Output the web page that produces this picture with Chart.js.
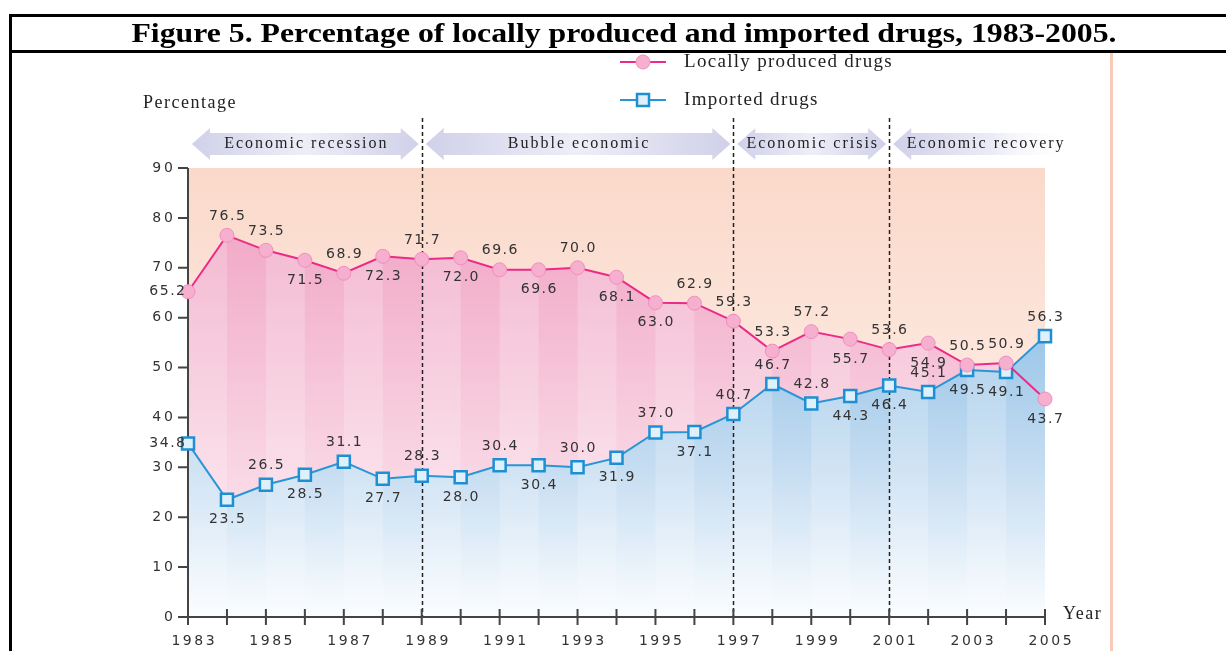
<!DOCTYPE html>
<html>
<head>
<meta charset="utf-8">
<title>Figure 5</title>
<script src="https://cdn.jsdelivr.net/npm/chart.js@4.4.0/dist/chart.umd.min.js"></script>
<style>
    html, body { margin: 0; padding: 0; background: #fff; overflow: hidden; }
    #contenedor { position: relative; width: 1226px; height: 651px; overflow: hidden; }
    #grafico { position: absolute; left: 0; top: 0; }
    #marco { position: absolute; left: 9px; top: 14px; width: 1260px; height: 700px;
             border-left: 3px solid #000; border-top: 3px solid #000; }
    #titulo { position: absolute; left: 9px; top: 17px; width: 1260px; height: 33px;
              border-bottom: 3px solid #000; }
    #titulo span { position: absolute; left: 0; width: 1230px; top: -1px; text-align: center;
                   font: bold 28px "Liberation Serif", "Times New Roman", serif; line-height: 33px;
                   color: #000; white-space: nowrap; transform: scaleX(1.135); transform-origin: 615px 0; }
</style>
</head>
<body>
<div id="contenedor">
    <canvas id="grafico" width="1226" height="651"></canvas>
    <div id="marco"></div>
    <div id="titulo"><span>Figure 5. Percentage of locally produced and imported drugs, 1983-2005.</span></div>
</div>
<script>
// Datos del gráfico
const anios = [1983, 1984, 1985, 1986, 1987, 1988, 1989, 1990, 1991, 1992, 1993, 1994,
               1995, 1996, 1997, 1998, 1999, 2000, 2001, 2002, 2003, 2004, 2005];
const localesPct = [65.2, 76.5, 73.5, 71.5, 68.9, 72.3, 71.7, 72.0, 69.6, 69.6, 70.0, 68.1,
                    63.0, 62.9, 59.3, 53.3, 57.2, 55.7, 53.6, 54.9, 50.5, 50.9, 43.7];
const importadosPct = [34.8, 23.5, 26.5, 28.5, 31.1, 27.7, 28.3, 28.0, 30.4, 30.4, 30.0, 31.9,
                       37.0, 37.1, 40.7, 46.7, 42.8, 44.3, 46.4, 45.1, 49.5, 49.1, 56.3];
const ticksY = [0, 10, 20, 30, 40, 50, 60, 70, 80, 90];
const etiquetasX = [1983, 1985, 1987, 1989, 1991, 1993, 1995, 1997, 1999, 2001, 2003, 2005];
const periodos = ['Economic recession', 'Bubble economic', 'Economic crisis', 'Economic recovery'];
const cortesPeriodo = [1983, 1989, 1997, 2001, 2005];
const nombresSeries = ['Locally produced drugs', 'Imported drugs'];

// Ubicación de cada etiqueta de valor: a = arriba, b = abajo, l = izquierda
const posLocales = ['l','a','a','b','a','b','a','b','a','b','a','b','b','a','a','a','a','b','a','b','a','a','b'];
const posImportados = ['l','b','a','b','a','b','a','b','a','b','a','b','a','b','a','a','a','b','b','a','b','b','a'];

const fuenteNum = '14px "DejaVu Sans", sans-serif';
const fuenteSerif = '"Liberation Serif", "Times New Roman", serif';

// Degradados (dependen del área del gráfico)
function degradadoRosa(chart) {
    const a = chart.chartArea;
    const g = chart.ctx.createLinearGradient(0, a.top, 0, a.bottom);
    g.addColorStop(0, '#f0a2c3');
    g.addColorStop(0.2, '#f2aeca');
    g.addColorStop(0.6, '#f8d0e0');
    g.addColorStop(1, '#fdeff5');
    return g;
}
function degradadoAzul(chart) {
    const a = chart.chartArea;
    const g = chart.ctx.createLinearGradient(0, a.top, 0, a.bottom);
    g.addColorStop(0, '#96c3e8');
    g.addColorStop(0.35, '#99c5e8');
    g.addColorStop(0.66, '#c4dcf1');
    g.addColorStop(1, '#fbfdff');
    return g;
}

function textoEspaciado(ctx, texto, x, y, espacio, alinear) {
    ctx.letterSpacing = espacio + 'px';
    const w = ctx.measureText(texto).width - espacio;
    let x0 = x;
    if (alinear === 'center') x0 = x - w / 2;
    else if (alinear === 'right') x0 = x - w;
    ctx.textAlign = 'left';
    ctx.fillText(texto, x0, y);
    ctx.letterSpacing = '0px';
}

// Fondo melocotón del área de trazado y línea lateral
const fondo = {
    id: 'fondo',
    beforeDraw(chart) {
        const { ctx, chartArea: a } = chart;
        ctx.save();
        const g = ctx.createLinearGradient(0, a.top, 0, a.bottom);
        g.addColorStop(0, '#fad9ca');
        g.addColorStop(0.5, '#fde8df');
        g.addColorStop(1, '#fff3ee');
        ctx.fillStyle = g;
        ctx.fillRect(a.left, a.top, a.right - a.left, a.bottom - a.top);
        ctx.fillStyle = '#f8cbb9';
        ctx.fillRect(1110, 53, 3, 600);
        ctx.restore();
    }
};

// Franjas verticales alternas, ejes y líneas de periodo
const rayas = {
    id: 'rayas',
    beforeDatasetsDraw(chart) {
        const { ctx, chartArea: a, scales } = chart;
        const x = scales.x, y = scales.y;
        ctx.save();
        // recorte: unión de las zonas bajo ambas series
        ctx.beginPath();
        [0, 1].forEach(i => {
            const pts = chart.getDatasetMeta(i).data;
            ctx.moveTo(pts[0].x, y.getPixelForValue(0));
            pts.forEach(p => ctx.lineTo(p.x, p.y));
            ctx.lineTo(pts[pts.length - 1].x, y.getPixelForValue(0));
            ctx.closePath();
        });
        ctx.clip();
        ctx.fillStyle = 'rgba(255,255,255,0.2)';
        for (let i = 0; i < anios.length - 1; i += 2) {
            const x1 = x.getPixelForValue(anios[i]);
            const x2 = x.getPixelForValue(anios[i + 1]);
            ctx.fillRect(x1, a.top, x2 - x1, a.bottom - a.top);
        }
        ctx.restore();

        // líneas discontinuas de periodo
        ctx.save();
        ctx.strokeStyle = '#222';
        ctx.lineWidth = 1.5;
        ctx.setLineDash([4, 3]);
        cortesPeriodo.slice(1, -1).forEach(c => {
            const px = Math.round(x.getPixelForValue(c)) + 0.5;
            ctx.beginPath();
            ctx.moveTo(px, 118);
            ctx.lineTo(px, y.getPixelForValue(0));
            ctx.stroke();
        });
        ctx.restore();

        // ejes
        ctx.save();
        ctx.strokeStyle = '#444';
        ctx.lineWidth = 2;
        const x0 = x.getPixelForValue(anios[0]);
        const y0 = y.getPixelForValue(0);
        ctx.beginPath();
        ctx.moveTo(x0, y.getPixelForValue(90));
        ctx.lineTo(x0, y0);
        ctx.moveTo(x0 - 10, y0);
        ctx.lineTo(x.getPixelForValue(anios[anios.length - 1]), y0);
        ticksY.forEach(t => {
            const py = y.getPixelForValue(t);
            ctx.moveTo(x0 - 10, py);
            ctx.lineTo(x0, py);
        });
        anios.forEach(an => {
            const px = x.getPixelForValue(an);
            ctx.moveTo(px, y0 - 8);
            ctx.lineTo(px, y0 + 8);
        });
        ctx.stroke();

        ctx.fillStyle = '#333';
        ctx.font = fuenteNum;
        ctx.textBaseline = 'middle';
        ticksY.forEach(t => textoEspaciado(ctx, String(t), x0 - 15, y.getPixelForValue(t), 3, 'right'));
        etiquetasX.forEach(e => textoEspaciado(ctx, String(e), x.getPixelForValue(e) + 5, y0 + 24, 2.5, 'center'));

        ctx.fillStyle = '#222';
        ctx.font = '18px ' + fuenteSerif;
        textoEspaciado(ctx, 'Percentage', 143, 103, 1.5, 'left');
        textoEspaciado(ctx, 'Year', 1063, 614, 1.5, 'left');
        ctx.restore();
    }
};

// Flechas de periodos económicos
function dibujarFlecha(ctx, x1, x2, yc, puntaDer) {
    const h = 16, cuerpo = 11, punta = 18;
    const g = ctx.createLinearGradient(x1, 0, x2, 0);
    g.addColorStop(0, '#d0d0e9');
    if (puntaDer) {
        g.addColorStop(0.5, '#eeeef8');
        g.addColorStop(1, '#d0d0e9');
    } else {
        g.addColorStop(0.55, '#ececf7');
        g.addColorStop(1, 'rgba(255,255,255,0)');
    }
    ctx.fillStyle = g;
    ctx.beginPath();
    ctx.moveTo(x1, yc);
    ctx.lineTo(x1 + punta, yc - h);
    ctx.lineTo(x1 + punta, yc - cuerpo);
    if (puntaDer) {
        ctx.lineTo(x2 - punta, yc - cuerpo);
        ctx.lineTo(x2 - punta, yc - h);
        ctx.lineTo(x2, yc);
        ctx.lineTo(x2 - punta, yc + h);
        ctx.lineTo(x2 - punta, yc + cuerpo);
    } else {
        ctx.lineTo(x2, yc - cuerpo);
        ctx.lineTo(x2, yc + cuerpo);
    }
    ctx.lineTo(x1 + punta, yc + cuerpo);
    ctx.lineTo(x1 + punta, yc + h);
    ctx.closePath();
    ctx.fill();
}

const flechas = {
    id: 'flechas',
    afterDraw(chart) {
        const { ctx, scales } = chart;
        const x = scales.x;
        ctx.save();
        periodos.forEach((p, i) => {
            const ultimo = i === periodos.length - 1;
            const x1 = x.getPixelForValue(cortesPeriodo[i]) + 4;
            const x2 = ultimo ? x.getPixelForValue(cortesPeriodo[i + 1]) + 30 : x.getPixelForValue(cortesPeriodo[i + 1]) - 3;
            dibujarFlecha(ctx, x1, x2, 144, !ultimo);
            ctx.fillStyle = '#222';
            ctx.font = '16px ' + fuenteSerif;
            ctx.textBaseline = 'middle';
            const centro = ultimo ? x1 + 92 : (x1 + x2) / 2;
            textoEspaciado(ctx, p, centro, 144, 2, 'center');
        });
        ctx.restore();
    }
};

// Etiquetas de valores
const etiquetas = {
    id: 'etiquetas',
    afterDatasetsDraw(chart) {
        const { ctx } = chart;
        ctx.save();
        ctx.font = fuenteNum;
        ctx.fillStyle = '#333';
        ctx.textBaseline = 'middle';
        [[localesPct, posLocales], [importadosPct, posImportados]].forEach((par, i) => {
            const pts = chart.getDatasetMeta(i).data;
            par[0].forEach((v, j) => {
                const p = pts[j];
                const txt = v.toFixed(1);
                const pos = par[1][j];
                if (pos === 'l') textoEspaciado(ctx, txt, p.x - 3, p.y, 1.5, 'right');
                else if (pos === 'a') textoEspaciado(ctx, txt, p.x, p.y - 19, 1.5, 'center');
                else textoEspaciado(ctx, txt, p.x, p.y + 20, 1.5, 'center');
            });
        });
        ctx.restore();
    }
};

// Leyenda
const leyenda = {
    id: 'leyenda',
    afterDraw(chart) {
        const { ctx } = chart;
        ctx.save();
        const filas = [62, 100];
        filas.forEach((fy, i) => {
            const ds = chart.data.datasets[i];
            ctx.strokeStyle = ds.borderColor;
            ctx.lineWidth = 2;
            ctx.beginPath();
            ctx.moveTo(620, fy);
            ctx.lineTo(666, fy);
            ctx.stroke();
            ctx.fillStyle = ds.pointBackgroundColor;
            ctx.strokeStyle = ds.pointBorderColor;
            ctx.lineWidth = ds.pointBorderWidth;
            ctx.beginPath();
            if (ds.pointStyle === 'rect') {
                const s = ds.pointRadius * Math.SQRT1_2;
                ctx.rect(643 - s, fy - s, 2 * s, 2 * s);
            } else {
                ctx.arc(643, fy, ds.pointRadius, 0, Math.PI * 2);
            }
            ctx.fill();
            ctx.stroke();
            ctx.fillStyle = '#222';
            ctx.font = '19px ' + fuenteSerif;
            ctx.textBaseline = 'middle';
            textoEspaciado(ctx, nombresSeries[i], 684, fy, 1.3, 'left');
        });
        ctx.restore();
    }
};

document.addEventListener('DOMContentLoaded', () => {
    const ctx = document.getElementById('grafico').getContext('2d');
    new Chart(ctx, {
        type: 'line',
        data: {
            datasets: [
                {
                    label: nombresSeries[0],
                    data: anios.map((a, i) => ({ x: a, y: localesPct[i] })),
                    borderColor: '#ec2a88',
                    borderWidth: 2,
                    pointStyle: 'circle',
                    pointRadius: 7,
                    pointBackgroundColor: '#f6afcf',
                    pointBorderColor: '#f08fbd',
                    pointBorderWidth: 1,
                    tension: 0,
                    clip: false,
                    fill: (c) => {
                        const chart = c.chart;
                        if (!chart.chartArea) return { target: 1 };
                        return { target: 1, above: degradadoRosa(chart), below: degradadoAzul(chart) };
                    }
                },
                {
                    label: nombresSeries[1],
                    data: anios.map((a, i) => ({ x: a, y: importadosPct[i] })),
                    borderColor: '#2a95d5',
                    borderWidth: 2,
                    pointStyle: 'rect',
                    pointRadius: 8.5,
                    pointBackgroundColor: '#def0fb',
                    pointBorderColor: '#1f8fd4',
                    pointBorderWidth: 2.5,
                    tension: 0,
                    clip: false,
                    fill: 'origin',
                    backgroundColor: (c) => c.chart.chartArea ? degradadoAzul(c.chart) : '#c4dcf1'
                }
            ]
        },
        options: {
            responsive: false,
            animation: false,
            devicePixelRatio: 1,
            events: [],
            layout: { padding: { left: 188, right: 181, top: 168, bottom: 34 } },
            scales: {
                x: { type: 'linear', min: anios[0], max: anios[anios.length - 1], display: false },
                y: { min: ticksY[0], max: ticksY[ticksY.length - 1], display: false }
            },
            plugins: {
                filler: { drawTime: 'beforeDatasetsDraw' },
                legend: { display: false },
                tooltip: { enabled: false },
                title: { display: false }
            }
        },
        plugins: [fondo, rayas, etiquetas, flechas, leyenda]
    });
});
</script>
</body>
</html>
